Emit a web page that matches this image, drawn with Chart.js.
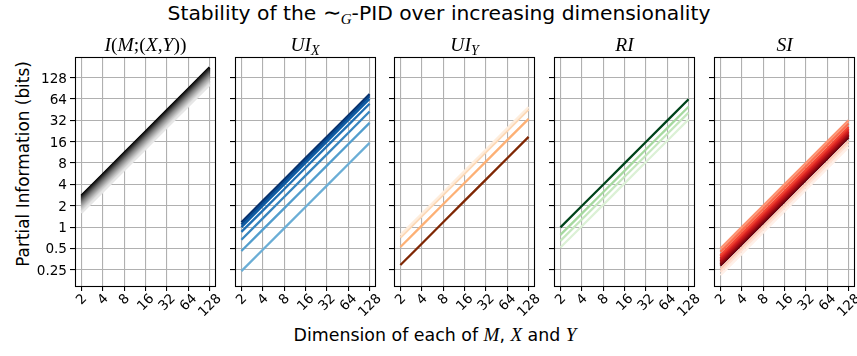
<!DOCTYPE html>
<html>
<head>
<meta charset="utf-8">
<script src="https://cdn.jsdelivr.net/npm/chart.js@4.4.1/dist/chart.umd.min.js"></script>
<style>
  html, body { margin: 0; padding: 0; background: #fff; }
  #fig { position: relative; width: 857px; height: 356px; overflow: hidden;
         font-family: "DejaVu Sans", sans-serif; color: #000; }
  #fig canvas { position: absolute; }
  .txt { position: absolute; white-space: nowrap; line-height: 1; }
  .mi { font-family: "Liberation Serif", serif; font-style: italic; }
  .mr { font-family: "Liberation Serif", serif; }
  .ptitle { font-size: 19.5px; transform: translateX(-50%); }
  .ptitle sub { font-size: 14px; vertical-align: -4px; }
</style>
</head>
<body>
<div id="fig">
  <div class="txt" style="left:439px; top:2px; font-size:20.3px; transform:translateX(-50%);">Stability of the <span class="mr" style="font-size:22px;">∼</span><sub class="mi" style="font-size:15px; vertical-align:-4px;">G</sub>-PID over increasing dimensionality</div>
  <div class="txt" style="left:435px; top:325px; font-size:17.4px; transform:translateX(-50%);">Dimension of each of <span class="mi" style="font-size:19px;">M</span>, <span class="mi" style="font-size:19px;">X</span> and <span class="mi" style="font-size:19px;">Y</span></div>
  <div class="txt" style="left:23px; top:164px; font-size:16.9px; transform:translate(-50%,-50%) rotate(-90deg);">Partial Information (bits)</div>
</div>
<script>
// Dimension of M, X and Y on the horizontal axis
const dims = [2, 4, 8, 16, 32, 64, 128];
const xTickLabels = ['2', '4', '8', '16', '32', '64', '128'];
const yTicks = [0.25, 0.5, 1, 2, 4, 8, 16, 32, 64, 128];
const yTickLabels = ['0.25', '0.5', '1', '2', '4', '8', '16', '32', '64', '128'];

// I(M;(X,Y)) – one curve per setting, listed lightest to darkest
const mutualInfo = [
  [1.58, 3.16, 6.32, 12.6, 25.3, 50.6, 101],
  [1.66, 3.32, 6.64, 13.3, 26.6, 53.1, 106],
  [1.74, 3.48, 6.96, 13.9, 27.8, 55.7, 111],
  [1.82, 3.64, 7.28, 14.6, 29.1, 58.2, 116],
  [1.90, 3.80, 7.60, 15.2, 30.4, 60.8, 122],
  [1.98, 3.96, 7.92, 15.8, 31.7, 63.4, 127],
  [2.06, 4.12, 8.24, 16.5, 33.0, 65.9, 132],
  [2.14, 4.28, 8.56, 17.1, 34.2, 68.5, 137],
  [2.22, 4.44, 8.88, 17.8, 35.5, 71.0, 142],
  [2.30, 4.60, 9.20, 18.4, 36.8, 73.6, 147],
  [2.38, 4.76, 9.52, 19.0, 38.1, 76.2, 152],
  [2.46, 4.92, 9.84, 19.7, 39.4, 78.7, 157],
  [2.54, 5.08, 10.2, 20.3, 40.6, 81.3, 163],
  [2.62, 5.24, 10.5, 21.0, 41.9, 83.8, 168],
  [2.70, 5.40, 10.8, 21.6, 43.2, 86.4, 173],
  [2.78, 5.56, 11.1, 22.2, 44.5, 89.0, 178]
];
const mutualInfoColors = ['#e6e6e6', '#d8d8d8', '#cacaca', '#bcbcbc', '#adadad', '#9e9e9e', '#8f8f8f', '#808080',
                          '#707070', '#606060', '#505050', '#404040', '#303030', '#202020', '#101010', '#000000'];

// Unique information of X
const uniqueX = [
  [0.24, 0.48, 0.96, 1.92, 3.84, 7.68, 15.4],
  [0.46, 0.92, 1.84, 3.68, 7.36, 14.7, 29.4],
  [0.664, 1.33, 2.66, 5.31, 10.6, 21.2, 42.5],
  [0.856, 1.71, 3.42, 6.85, 13.7, 27.4, 54.8],
  [1.00, 2.00, 4.00, 8.00, 16.0, 32.0, 64.0],
  [1.09, 2.18, 4.36, 8.72, 17.4, 34.9, 69.8],
  [1.17, 2.34, 4.68, 9.36, 18.7, 37.4, 74.9]
];
const uniqueXColors = ['#6baed6', '#539ecd', '#3a87c0', '#2171b5', '#0d5ca3', '#08478d', '#08306b'];

// Unique information of Y
const uniqueY = [
  [0.77, 1.54, 3.08, 6.16, 12.3, 24.6, 49.3],
  [0.71, 1.42, 2.84, 5.68, 11.4, 22.7, 45.4],
  [0.524, 1.05, 2.10, 4.19, 8.38, 16.8, 33.5],
  [0.292, 0.584, 1.17, 2.34, 4.67, 9.34, 18.7]
];
const uniqueYColors = ['#feeddc', '#fdd8b5', '#fdb075', '#7f2704'];

// Redundant information
const redundant = [
  [0.516, 1.03, 2.06, 4.13, 8.26, 16.5, 33.0],
  [0.64, 1.28, 2.56, 5.12, 10.2, 20.5, 41.0],
  [0.776, 1.55, 3.10, 6.21, 12.4, 24.8, 49.7],
  [0.99, 1.98, 3.96, 7.92, 15.8, 31.7, 63.4]
];
const redundantColors = ['#dcf1d6', '#c4e7bd', '#a6d99f', '#00441b'];

// Synergistic information
const synergy = [
  [0.21, 0.42, 0.84, 1.68, 3.36, 6.72, 13.4],
  [0.232, 0.464, 0.928, 1.86, 3.71, 7.42, 14.8],
  [0.254, 0.508, 1.02, 2.03, 4.06, 8.13, 16.3],
  [0.5, 1.0, 2.0, 4.0, 8.0, 16.0, 32.0],
  [0.45, 0.90, 1.80, 3.60, 7.20, 14.4, 28.8],
  [0.404, 0.808, 1.62, 3.23, 6.46, 12.9, 25.9],
  [0.384, 0.768, 1.54, 3.07, 6.14, 12.3, 24.6],
  [0.364, 0.728, 1.46, 2.91, 5.82, 11.6, 23.3],
  [0.346, 0.692, 1.38, 2.77, 5.54, 11.1, 22.1],
  [0.33, 0.66, 1.32, 2.64, 5.28, 10.6, 21.1],
  [0.314, 0.628, 1.26, 2.51, 5.02, 10.0, 20.1],
  [0.30, 0.60, 1.20, 2.40, 4.80, 9.60, 19.2],
  [0.286, 0.572, 1.14, 2.29, 4.58, 9.15, 18.3]
];
const synergyColors = ['#fff0e8', '#fee0d2', '#fdc9b4', '#fc9272', '#fb6b4b', '#f14432', '#e32f27',
                       '#d21f20', '#bf151b', '#a90f15', '#900a12', '#7a0510', '#67000d'];

const panels = [
  { title: '<span class="mi">I</span><span class="mr">(</span><span class="mi">M</span><span class="mr">;(</span><span class="mi">X</span><span class="mr">,</span><span class="mi">Y</span><span class="mr">))</span>', series: mutualInfo, colors: mutualInfoColors },
  { title: '<span class="mi">UI</span><sub class="mi">X</sub>', series: uniqueX, colors: uniqueXColors },
  { title: '<span class="mi">UI</span><sub class="mi">Y</sub>', series: uniqueY, colors: uniqueYColors },
  { title: '<span class="mi">RI</span>', series: redundant, colors: redundantColors },
  { title: '<span class="mi">SI</span>', series: synergy, colors: synergyColors }
];

// Frame geometry of the five side-by-side axes
const PANEL_LEFT = [75, 234.5, 394, 554, 714];
const PANEL_W = 141;
const PLOT_TOP = 57.3, PLOT_BOTTOM = 286;
const CANVAS_TOP = 45, CANVAS_BOTTOM = 336;
const TICK_SIZE = 13.6;
const TICK_FONT = TICK_SIZE + 'px "DejaVu Sans"';

// Tick labels (rotated on x), plus the black frame around each axes
const framePlugin = {
  id: 'frameAndLabels',
  afterDatasetsDraw(chart) {
    const a = chart.chartArea;
    const ctx = chart.ctx;
    ctx.save();
    ctx.strokeStyle = '#000';
    ctx.lineWidth = 1.1;
    ctx.strokeRect(Math.round(a.left) + 0.5, Math.round(a.top) + 0.5,
                   Math.round(a.right) - Math.round(a.left) - 1, Math.round(a.bottom) - Math.round(a.top));
    ctx.restore();
  },
  afterDraw(chart, args, opts) {
    const a = chart.chartArea;
    const ctx = chart.ctx;
    const xs = chart.scales.x, ys = chart.scales.y;
    ctx.save();
    ctx.fillStyle = '#000';
    ctx.font = TICK_FONT;
    dims.forEach((v, k) => {
      const t = xTickLabels[k];
      const w = ctx.measureText(t).width;
      const h = TICK_SIZE * 0.73;
      const cx = xs.getPixelForValue(v) - 0.5;
      const cy = a.bottom + 6 + (w + h) * Math.SQRT1_2 / 2;
      ctx.save();
      ctx.translate(cx, cy);
      ctx.rotate(-Math.PI / 4);
      ctx.textAlign = 'center';
      ctx.textBaseline = 'alphabetic';
      ctx.fillText(t, 0, h / 2);
      ctx.restore();
    });
    if (opts.showY) {
      ctx.textAlign = 'right';
      ctx.textBaseline = 'alphabetic';
      yTicks.forEach((v, k) => {
        ctx.fillText(yTickLabels[k], a.left - 8, ys.getPixelForValue(v) + TICK_SIZE * 0.365);
      });
    }
    ctx.restore();
  }
};

const fig = document.getElementById('fig');

function zeroScale(s, horizontal) {
  if (horizontal) s.height = 0; else s.width = 0;
  s.paddingLeft = s.paddingRight = s.paddingTop = s.paddingBottom = 0;
}

panels.forEach((p, i) => {
  const padL = i === 0 ? PANEL_LEFT[0] : 10;
  const padR = 10;
  const left = PANEL_LEFT[i] - padL;
  const width = padL + PANEL_W + padR;
  const height = CANVAS_BOTTOM - CANVAS_TOP;

  const cv = document.createElement('canvas');
  cv.width = width; cv.height = height;
  cv.style.left = left + 'px'; cv.style.top = CANVAS_TOP + 'px';
  cv.style.width = width + 'px'; cv.style.height = height + 'px';
  fig.appendChild(cv);

  const t = document.createElement('div');
  t.className = 'txt ptitle';
  t.style.left = (PANEL_LEFT[i] + PANEL_W / 2) + 'px';
  t.style.top = '35px';
  t.innerHTML = p.title;
  fig.appendChild(t);

  new Chart(cv, {
    type: 'line',
    data: {
      datasets: p.series.map((vals, k) => ({
        data: vals.map((y, j) => ({ x: dims[j], y })),
        borderColor: p.colors[k],
        backgroundColor: p.colors[k],
        borderWidth: 2.3,
        pointRadius: 0,
        fill: false,
        tension: 0
      }))
    },
    options: {
      responsive: false,
      animation: false,
      events: [],
      layout: { padding: { left: padL, right: padR, top: PLOT_TOP - CANVAS_TOP, bottom: CANVAS_BOTTOM - PLOT_BOTTOM } },
      plugins: { legend: { display: false }, tooltip: { enabled: false }, title: { display: false },
                 frameAndLabels: { showY: i === 0 } },
      scales: {
        x: {
          type: 'logarithmic', min: 1.6245, max: 157.6, bounds: 'data',
          afterBuildTicks: s => { s.ticks = dims.map(v => ({ value: v })); },
          afterFit: s => zeroScale(s, true),
          ticks: { display: false },
          grid: { color: '#b0b0b0', lineWidth: 1.1, drawTicks: true, tickLength: 5, tickColor: '#000', tickWidth: 1.1 },
          border: { display: false }
        },
        y: {
          type: 'logarithmic', min: 0.148, max: 247, bounds: 'data',
          afterBuildTicks: s => { s.ticks = yTicks.map(v => ({ value: v })); },
          afterFit: s => zeroScale(s, false),
          ticks: { display: false },
          grid: { color: '#b0b0b0', lineWidth: 1.1, drawTicks: true, tickLength: 5, tickColor: '#000', tickWidth: 1.1 },
          border: { display: false }
        }
      }
    },
    plugins: [framePlugin]
  });
});
</script>
</body>
</html>
